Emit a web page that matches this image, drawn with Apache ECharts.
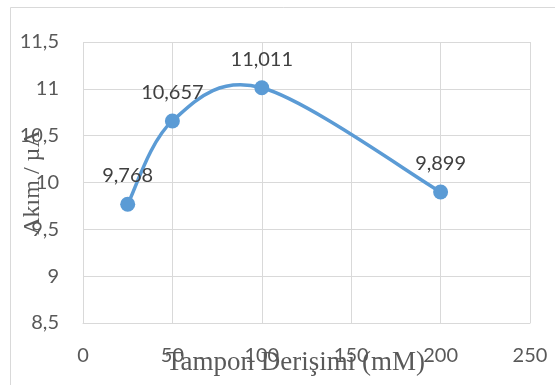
<!DOCTYPE html>
<html>
<head>
<meta charset="utf-8">
<script src="https://cdn.jsdelivr.net/npm/echarts@6/dist/echarts.min.js"></script>
<style>
html,body{margin:0;padding:0;background:#fff;}
#chart{width:555px;height:385px;}
</style>
</head>
<body>
<div id="chart"></div>
<script>
const xValues = [25, 50, 100, 200];
const yValues = [9.768, 10.657, 11.011, 9.899];
const xTicks = [0, 50, 100, 150, 200, 250];
const yTicks = [8.5, 9, 9.5, 10, 10.5, 11, 11.5];
const xTitle = 'Tampon Derişimi (mM)';
const yTitle = 'Akım / µA';

const fmt = v => String(v).replace('.', ',');
const BLUE = '#5b9bd5';

// Excel-like smoothed line: Catmull-Rom style Bezier segments computed in pixel space
function renderSegment(params, api) {
  const i = params.dataIndex;
  const n = xValues.length;
  if (i >= n - 1) return null;
  const P = j => api.coord([xValues[Math.max(0, Math.min(n - 1, j))], yValues[Math.max(0, Math.min(n - 1, j))]]);
  const p0 = P(i - 1), p1 = P(i), p2 = P(i + 1), p3 = P(i + 2);
  const k = 1 / 6;
  return {
    type: 'bezierCurve',
    shape: {
      x1: p1[0], y1: p1[1],
      x2: p2[0], y2: p2[1],
      cpx1: p1[0] + (p2[0] - p0[0]) * k,
      cpy1: p1[1] + (p2[1] - p0[1]) * k,
      cpx2: p2[0] - (p3[0] - p1[0]) * k,
      cpy2: p2[1] - (p3[1] - p1[1]) * k
    },
    style: {stroke: BLUE, lineWidth: 3.5, fill: null, lineCap: 'round'}
  };
}

const chart = echarts.init(document.getElementById('chart'), null, {renderer: 'canvas'});
chart.setOption({
  animation: false,
  backgroundColor: '#ffffff',
  graphic: [{
    type: 'rect',
    shape: {x: 10.5, y: 7.5, width: 700, height: 600},
    style: {fill: 'none', stroke: '#d9d9d9', lineWidth: 1},
    silent: true, z: -10
  }],
  grid: {left: 83, right: 25, top: 42, bottom: 62, containLabel: false, outerBoundsMode: 'none'},
  xAxis: {
    type: 'value',
    min: xTicks[0], max: xTicks[xTicks.length - 1], interval: 50,
    name: xTitle,
    nameLocation: 'middle',
    nameGap: 26,
    nameMoveOverlap: false,
    nameTextStyle: {fontFamily: 'Liberation Serif', fontSize: 27, color: '#595959', padding: [0, 22, 0, 0]},
    axisLine: {show: true, lineStyle: {color: '#d9d9d9', width: 1}},
    axisTick: {show: false},
    axisLabel: {
      margin: 23, fontFamily: 'Lato', fontSize: 20, color: '#595959',
      formatter: v => fmt(v)
    },
    splitLine: {show: true, lineStyle: {color: '#d9d9d9', width: 1}}
  },
  yAxis: {
    type: 'value',
    min: 8.5, max: 11.5, interval: 0.5,
    name: yTitle,
    nameLocation: 'middle',
    nameGap: 38,
    nameMoveOverlap: false,
    nameRotate: 90,
    nameTextStyle: {fontFamily: 'Liberation Serif', fontSize: 24, color: '#595959'},
    axisLine: {show: false},
    axisTick: {show: false},
    axisLabel: {
      margin: 24, fontFamily: 'Lato', fontSize: 20, color: '#595959',
      formatter: v => fmt(v)
    },
    splitLine: {show: true, lineStyle: {color: '#d9d9d9', width: 1}}
  },
  series: [{
    type: 'custom',
    renderItem: renderSegment,
    data: xValues.map((x, i) => [x, yValues[i]]),
    silent: true,
    z: 2
  }, {
    type: 'scatter',
    data: xValues.map((x, i) => [x, yValues[i]]),
    symbol: 'circle',
    symbolSize: 15,
    itemStyle: {color: BLUE, opacity: 1},
    z: 3,
    label: {
      show: true, position: 'top', distance: 11,
      fontFamily: 'Lato', fontSize: 20, color: '#404040',
      formatter: p => fmt(p.value[1])
    }
  }]
});
</script>
</body>
</html>
